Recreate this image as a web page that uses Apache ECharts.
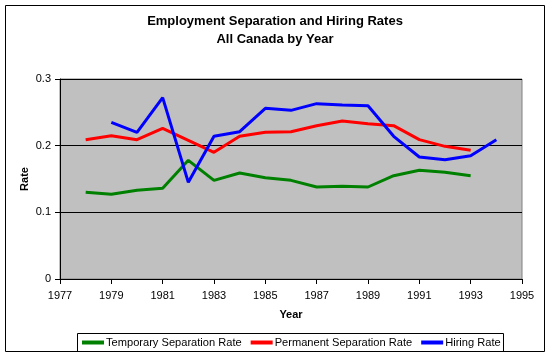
<!DOCTYPE html>
<html><head><meta charset="utf-8">
<script src="https://cdn.jsdelivr.net/npm/echarts@6/dist/echarts.min.js"></script>
<style>html,body{margin:0;padding:0;background:#fff}#c{width:550px;height:359px}</style>
</head><body><div id="c"></div>
<script>
const years = [1978,1979,1980,1981,1982,1983,1984,1985,1986,1987,1988,1989,1990,1991,1992,1993,1994];
const temporary = [0.130,0.127,0.133,0.136,0.178,0.148,0.159,0.152,0.148,0.138,0.139,0.138,0.155,0.163,0.160,0.155,null];
const permanent = [0.209,0.215,0.209,0.226,0.208,0.190,0.214,0.220,0.221,0.230,0.237,0.233,0.230,0.209,0.199,0.193,null];
const hiring = [null,0.235,0.220,0.272,0.145,0.214,0.221,0.256,0.253,0.263,0.261,0.260,0.214,0.183,0.179,0.185,0.209];
const seriesNames = ['Temporary Separation Rate','Permanent Separation Rate','Hiring Rate'];
const colors = ['#008000','#FF0000','#0000FF'];
const font = 'Liberation Sans, Arial, sans-serif';
function pairs(arr){ return years.map((y,i)=>[y,arr[i]]).filter(p=>p[1]!==null); }
const chart = echarts.init(document.getElementById('c'), null, {renderer:'canvas'});
chart.setOption({
  animation:false,
  backgroundColor:'#fff',
  graphic:[
    {type:'rect', shape:{x:5.5,y:5.5,width:539,height:346}, style:{fill:'none',stroke:'#000',lineWidth:1}, z:-10},
    {type:'rect', shape:{x:77.5,y:333.5,width:426,height:18}, style:{fill:'none',stroke:'#000',lineWidth:1}, z:-10}
  ],
  title:{
    text:'Employment Separation and Hiring Rates\nAll Canada by Year',
    left:'center', top:7,
    textStyle:{fontFamily:font,fontSize:13,fontWeight:'bold',color:'#000',lineHeight:18}
  },
  grid:{left:60,right:28,top:79,bottom:80,show:true,backgroundColor:'#C0C0C0',borderColor:'#808080',borderWidth:1},
  legend:{
    top:332,left:77,
    itemWidth:22,itemHeight:4,itemGap:9,
    icon:'rect',
    textStyle:{fontFamily:font,fontSize:11.1,color:'#000',padding:[0,0,0,-3]},
    data:seriesNames
  },
  xAxis:{
    type:'value',min:1977,max:1995,interval:2,
    name:'Year',nameLocation:'middle',nameGap:30,
    nameTextStyle:{fontFamily:font,fontSize:11,fontWeight:'bold',color:'#000'},
    axisLine:{lineStyle:{color:'#000',width:1}},
    axisTick:{show:true,length:5,lineStyle:{color:'#000'}},
    axisLabel:{fontFamily:font,fontSize:11,color:'#000',margin:11,formatter:v=>String(v)},
    splitLine:{show:false}
  },
  yAxis:{
    type:'value',min:0,max:0.3,interval:0.1,
    name:'Rate',nameLocation:'middle',nameGap:30,nameRotate:90,nameMoveOverlap:false,
    nameTextStyle:{fontFamily:font,fontSize:11,fontWeight:'bold',color:'#000'},
    axisLine:{show:true,lineStyle:{color:'#000',width:1}},
    axisTick:{show:true,length:5,lineStyle:{color:'#000'}},
    axisLabel:{fontFamily:font,fontSize:11,color:'#000',margin:9,formatter:v=>String(+v.toFixed(1))},
    splitLine:{show:true,lineStyle:{color:'#000',width:1}}
  },
  series:[
    {name:seriesNames[0],type:'line',data:pairs(temporary),color:colors[0],lineStyle:{width:3},showSymbol:false,symbol:'none'},
    {name:seriesNames[1],type:'line',data:pairs(permanent),color:colors[1],lineStyle:{width:3},showSymbol:false,symbol:'none'},
    {name:seriesNames[2],type:'line',data:pairs(hiring),color:colors[2],lineStyle:{width:3},showSymbol:false,symbol:'none'}
  ]
});
</script></body></html>
